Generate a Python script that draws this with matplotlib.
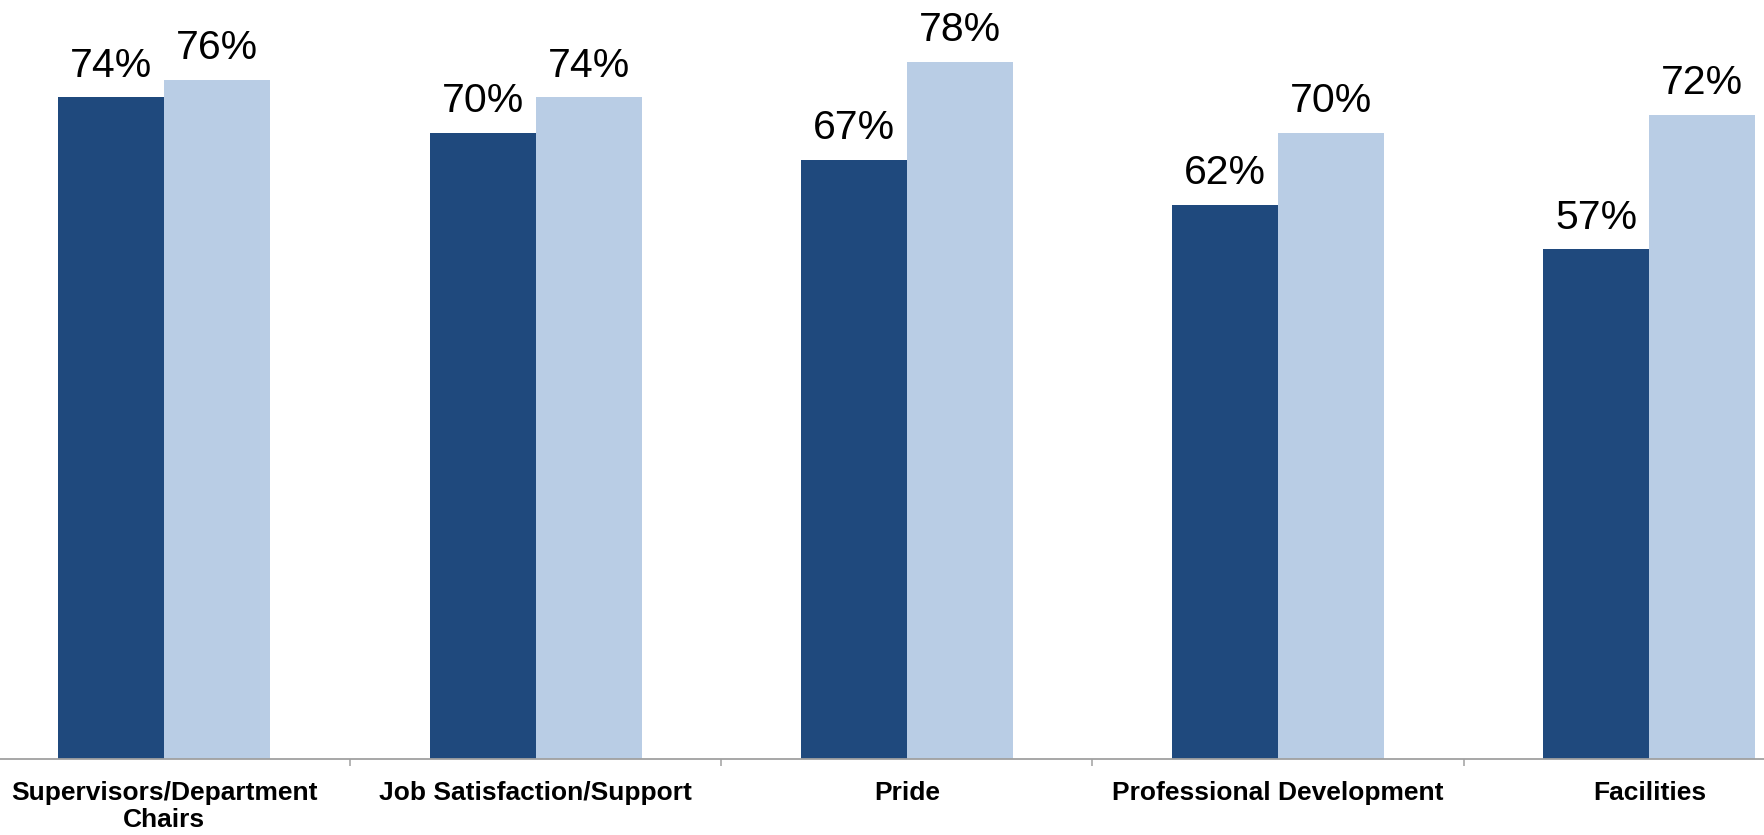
import matplotlib.pyplot as plt
import numpy as np

# survey results, two series per category
categories = ['Supervisors/Department\nChairs', 'Job Satisfaction/Support', 'Pride',
              'Professional Development', 'Facilities']
series_dark = [74, 70, 67, 62, 57]
series_light = [76, 74, 78, 70, 72]

dark_color = '#1F497D'
light_color = '#B9CDE5'

plt.rcParams['font.family'] = ['Liberation Sans', 'DejaVu Sans']

fig = plt.figure(figsize=(17.65, 8.35), dpi=100)
ax = fig.add_axes([0, 0.0910, 1, 0.9090])

x = np.arange(len(categories))
width = 0.2855
b1 = ax.bar(x - width / 2, series_dark, width, color=dark_color)
b2 = ax.bar(x + width / 2, series_light, width, color=light_color)

# value labels above bars
for bars, vals in ((b1, series_dark), (b2, series_light)):
    for rect, v in zip(bars, vals):
        ax.annotate('{0}%'.format(v), (rect.get_x() + rect.get_width() / 2, rect.get_height()),
                    xytext=(0, 15), textcoords='offset points',
                    ha='center', va='baseline', fontsize=29.5, color='black')

ax.set_xlim(-0.4426, 4.3116)
ax.set_ylim(0, 84.9)

ax.set_xticks(x)
ax.set_xticklabels(categories, fontsize=19, fontweight='bold', linespacing=1.14)
ax.set_xticks(x[:-1] + 0.5, minor=True)
ax.tick_params(axis='x', which='major', length=0, pad=16)
ax.tick_params(axis='x', which='minor', length=5, width=1.1, color='#a0a0a0', direction='out')
ax.set_yticks([])

for s in ['top', 'right', 'left']:
    ax.spines[s].set_visible(False)
ax.spines['bottom'].set_color('#a0a0a0')
ax.spines['bottom'].set_linewidth(1.3)

fig.savefig('out.png', dpi=100)
